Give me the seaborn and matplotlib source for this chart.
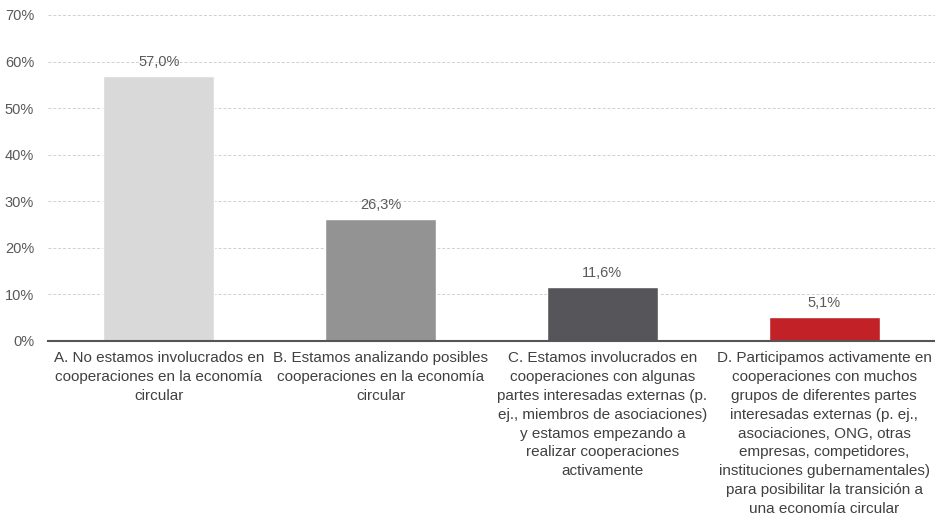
import matplotlib
matplotlib.use("Agg")
import matplotlib.pyplot as plt
import matplotlib.ticker as mticker
from matplotlib import font_manager
import seaborn as sns
import pandas as pd

categories = [
    "A. No estamos involucrados en\ncooperaciones en la economía\ncircular",
    "B. Estamos analizando posibles\ncooperaciones en la economía\ncircular",
    "C. Estamos involucrados en\ncooperaciones con algunas\npartes interesadas externas (p.\nej., miembros de asociaciones)\ny estamos empezando a\nrealizar cooperaciones\nactivamente",
    "D. Participamos activamente en\ncooperaciones con muchos\ngrupos de diferentes partes\ninteresadas externas (p. ej.,\nasociaciones, ONG, otras\nempresas, competidores,\ninstituciones gubernamentales)\npara posibilitar la transición a\nuna economía circular",
]
values = [57.0, 26.3, 11.6, 5.1]
colors = ["#d9d9d9", "#939393", "#56555a", "#c12127"]

sns.set_theme(style="white")
available = {f.name for f in font_manager.fontManager.ttflist}
family = "Liberation Sans Narrow" if "Liberation Sans Narrow" in available else "Liberation Sans"
plt.rcParams["font.family"] = [family, "DejaVu Sans"]

df = pd.DataFrame({"cat": categories, "val": values})

fig = plt.figure(figsize=(9.35, 5.22), dpi=100)
ax = fig.add_axes([48 / 935, 1 - 341 / 522, 887 / 935, (341 - 15) / 522])

sns.barplot(data=df, x="cat", y="val", hue="cat", palette=colors,
            width=0.5, legend=False, ax=ax, saturation=1)

ax.set_ylim(0, 70)
ax.set_xlim(-0.5, 3.5)
ax.yaxis.set_major_locator(mticker.MultipleLocator(10))
ax.yaxis.set_major_formatter(mticker.FuncFormatter(lambda v, p: f"{v:.0f}%"))
ax.grid(axis="y", color="#d0d0d0", linestyle=(0, (3, 2)), linewidth=0.7)
ax.set_axisbelow(True)
for s in ["top", "right", "left"]:
    ax.spines[s].set_visible(False)
ax.spines["bottom"].set_color("#555555")
ax.spines["bottom"].set_linewidth(1.5)
ax.set_xlabel("")
ax.set_ylabel("")
ax.tick_params(axis="y", length=0, labelsize=10.5, labelcolor="#595959", pad=10)
ax.tick_params(axis="x", length=0, labelsize=11, labelcolor="#404040", pad=7)
for lbl in ax.get_xticklabels():
    lbl.set_ha("center")
    lbl.set_linespacing(1.45)

for i, v in enumerate(values):
    ax.text(i, v + 1.5, f"{v:.1f}%".replace(".", ","), ha="center", va="bottom",
            fontsize=10.5, color="#595959")

fig.savefig("out.png", dpi=100)
